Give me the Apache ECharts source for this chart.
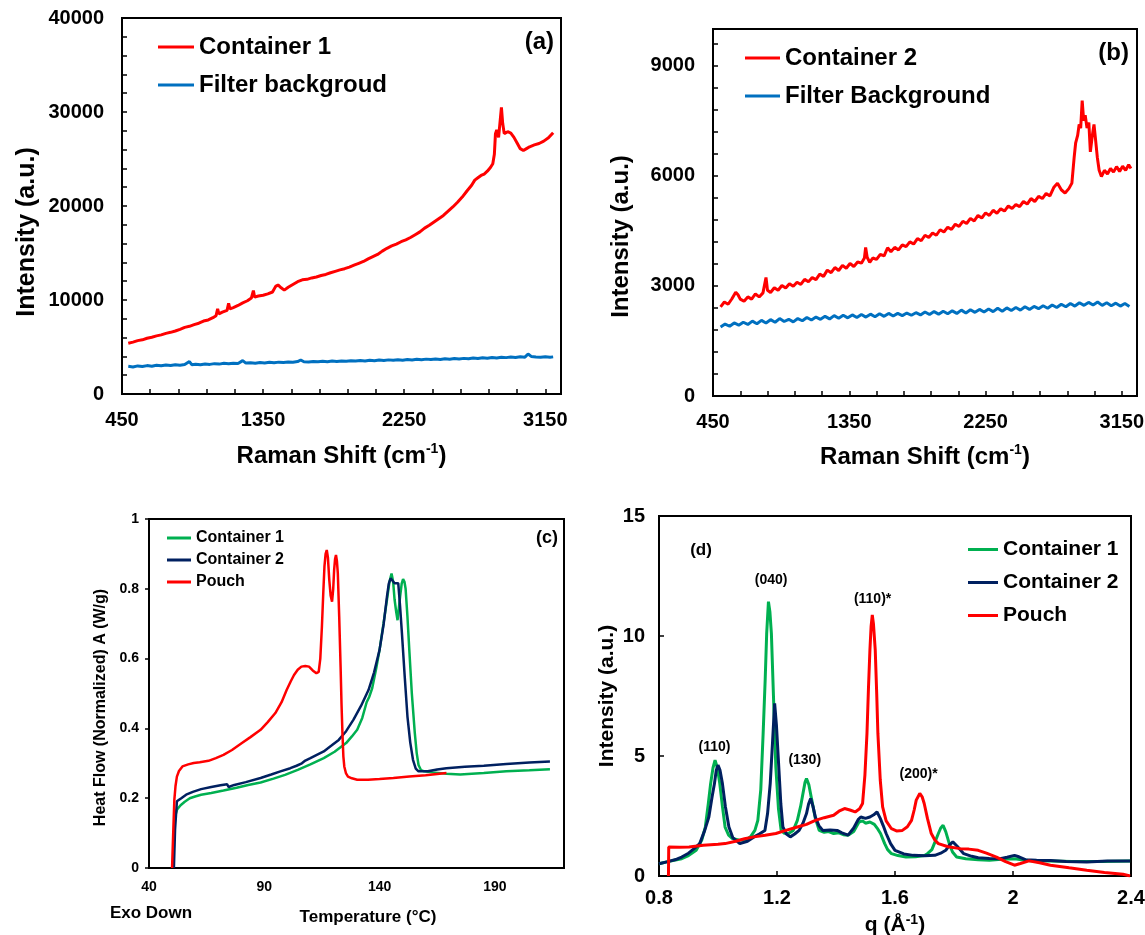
<!DOCTYPE html>
<html>
<head>
<meta charset="utf-8">
<script src="https://cdn.jsdelivr.net/npm/echarts@6/dist/echarts.min.js"></script>
<style>
html,body{margin:0;padding:0;background:#fff;}
.pane{position:absolute;left:0;top:0;width:1145px;height:935px;}
</style>
</head>
<body>
<div id="ca" class="pane"></div>
<div id="cb" class="pane"></div>
<div id="cc" class="pane"></div>
<div id="cd" class="pane"></div>
<script>
// ---------------- DATA ----------------
// Panel (a) Raman, Container 1 vs filter background  [Raman shift cm-1, intensity]
const ramanA_container1 = [[490,5400],[520,5520],[550,5680],[580,5760],[610,5930],[640,6040],[670,6180],[700,6290],[730,6450],[760,6560],[790,6700],[820,6880],[850,7090],[880,7200],[910,7380],[940,7530],[970,7760],[1000,7880],[1030,8120],[1050,8330],[1060,9050],[1068,8520],[1090,8700],[1120,8900],[1130,9650],[1138,9050],[1160,9200],[1190,9420],[1220,9690],[1250,9920],[1275,10200],[1288,11000],[1296,10300],[1320,10420],[1350,10500],[1380,10650],[1410,10850],[1430,11450],[1445,11600],[1465,11300],[1485,11050],[1510,11350],[1540,11650],[1570,11950],[1600,12150],[1630,12200],[1660,12350],[1690,12450],[1720,12600],[1750,12720],[1780,12900],[1810,13050],[1840,13200],[1870,13330],[1900,13500],[1930,13700],[1960,13900],[1990,14100],[2020,14380],[2050,14620],[2080,14850],[2110,15200],[2140,15500],[2170,15750],[2200,15950],[2230,16200],[2260,16400],[2290,16650],[2320,16950],[2350,17250],[2380,17650],[2410,17950],[2440,18300],[2470,18650],[2500,19000],[2530,19450],[2560,19900],[2590,20400],[2620,20950],[2650,21600],[2680,22200],[2700,22750],[2720,23000],[2740,23250],[2760,23400],[2780,23700],[2800,24100],[2815,24500],[2825,25500],[2832,27700],[2840,28100],[2852,27300],[2862,27500],[2870,30500],[2878,28800],[2888,27700],[2910,27900],[2930,27750],[2950,27300],[2970,26700],[2990,26100],[3010,25900],[3030,26100],[3050,26300],[3080,26500],[3110,26650],[3140,26900],[3170,27250],[3200,27800]];
const ramanA_filter = [[490,2950],[520,2880],[550,2990],[580,2920],[610,3020],[640,2960],[670,3050],[700,3000],[730,3080],[760,3030],[790,3110],[820,3060],[850,3130],[880,3450],[895,3120],[920,3170],[950,3120],[980,3200],[1010,3150],[1040,3230],[1070,3180],[1100,3260],[1130,3210],[1160,3280],[1190,3240],[1220,3550],[1240,3290],[1270,3330],[1300,3280],[1330,3340],[1360,3300],[1390,3370],[1420,3320],[1450,3390],[1480,3350],[1510,3400],[1540,3370],[1570,3450],[1590,3620],[1610,3430],[1640,3400],[1670,3460],[1700,3420],[1730,3480],[1760,3440],[1790,3500],[1820,3460],[1850,3520],[1880,3480],[1910,3540],[1940,3500],[1970,3560],[2000,3520],[2030,3590],[2060,3540],[2090,3610],[2120,3560],[2150,3630],[2180,3580],[2210,3650],[2240,3600],[2270,3670],[2300,3620],[2330,3690],[2360,3640],[2390,3710],[2420,3660],[2450,3730],[2480,3680],[2510,3750],[2540,3700],[2570,3770],[2600,3720],[2630,3790],[2660,3750],[2690,3820],[2720,3780],[2750,3850],[2780,3810],[2810,3880],[2840,3840],[2870,3910],[2900,3870],[2930,3930],[2960,3890],[2990,3960],[3020,3920],[3040,4250],[3060,4000],[3090,3940],[3120,3900],[3150,3960],[3180,3910],[3200,3950]];

// Panel (b) Raman, Container 2 vs filter background
const ramanB_container2 = [[500,2430],[525,2560],[550,2500],[575,2650],[600,2830],[615,2760],[630,2640],[655,2580],[680,2700],[705,2640],[730,2780],[755,2700],[780,2810],[800,3230],[810,2880],[830,2820],[855,2950],[880,2880],[905,3010],[930,2940],[955,3060],[980,2990],[1005,3100],[1030,3040],[1055,3180],[1080,3110],[1105,3230],[1130,3170],[1155,3320],[1180,3260],[1205,3430],[1230,3360],[1255,3500],[1280,3420],[1305,3560],[1330,3480],[1355,3610],[1380,3530],[1405,3650],[1430,3620],[1450,3760],[1458,4050],[1468,3780],[1485,3640],[1505,3760],[1530,3720],[1555,3860],[1580,3820],[1603,4040],[1625,3930],[1650,4050],[1675,3980],[1700,4120],[1725,4070],[1750,4200],[1775,4140],[1800,4290],[1825,4230],[1850,4380],[1875,4320],[1900,4440],[1925,4380],[1950,4530],[1975,4470],[2000,4600],[2025,4540],[2050,4680],[2075,4620],[2100,4760],[2125,4700],[2150,4840],[2175,4770],[2200,4920],[2225,4850],[2250,4990],[2275,4920],[2300,5060],[2325,4980],[2350,5100],[2375,5040],[2400,5180],[2425,5110],[2450,5220],[2475,5160],[2500,5300],[2525,5230],[2550,5380],[2575,5300],[2600,5440],[2625,5380],[2650,5520],[2675,5450],[2700,5680],[2725,5800],[2750,5620],[2775,5530],[2800,5650],[2820,5800],[2835,6500],[2845,6900],[2858,7100],[2868,7400],[2878,7300],[2888,8050],[2898,7500],[2908,7650],[2920,7300],[2932,7450],[2942,6650],[2955,7100],[2966,7400],[2976,7000],[2988,6500],[3000,6150],[3015,5980],[3035,6150],[3055,6050],[3075,6200],[3095,6100],[3115,6250],[3135,6120],[3155,6260],[3175,6150],[3195,6300],[3210,6200]];
const ramanB_filter = [[500,1880],[530,1960],[560,1900],[590,1990],[620,1930],[650,2010],[680,1950],[710,2040],[740,1970],[770,2060],[800,1990],[830,2080],[860,2010],[890,2110],[920,2030],[950,2090],[980,2020],[1010,2110],[1040,2050],[1070,2140],[1100,2070],[1130,2150],[1160,2090],[1190,2170],[1220,2100],[1250,2190],[1280,2120],[1310,2200],[1340,2130],[1370,2210],[1400,2140],[1430,2220],[1460,2150],[1490,2230],[1520,2160],[1550,2240],[1580,2170],[1610,2250],[1640,2180],[1670,2250],[1700,2190],[1730,2260],[1760,2200],[1790,2270],[1820,2210],[1850,2290],[1880,2220],[1910,2300],[1940,2230],[1970,2310],[2000,2240],[2030,2320],[2060,2250],[2090,2340],[2120,2260],[2150,2350],[2180,2280],[2210,2360],[2240,2290],[2270,2370],[2300,2300],[2330,2390],[2360,2310],[2390,2400],[2420,2330],[2450,2410],[2480,2340],[2510,2430],[2540,2360],[2570,2440],[2600,2380],[2630,2460],[2660,2390],[2690,2480],[2720,2410],[2750,2500],[2780,2430],[2810,2520],[2840,2450],[2870,2540],[2900,2470],[2930,2550],[2960,2480],[2990,2560],[3020,2470],[3050,2540],[3080,2460],[3110,2530],[3140,2450],[3170,2520],[3200,2440]];

// Panel (c) DSC  [temperature °C, heat flow W/g]
const dsc_container1 = [[50.5,0],[50.9,0.09],[51.3,0.148],[52.2,0.168],[53.7,0.18],[55.5,0.19],[57.7,0.2],[60,0.205],[62.6,0.21],[67,0.215],[72.3,0.222],[78,0.23],[83,0.238],[88.4,0.245],[94,0.256],[99,0.267],[104.5,0.281],[110,0.297],[115.8,0.315],[120.5,0.333],[125.5,0.358],[128,0.377],[130.3,0.396],[132.5,0.43],[134.4,0.475],[135.5,0.49],[136.8,0.515],[138.5,0.57],[140,0.625],[141.7,0.7],[143.2,0.768],[144.3,0.82],[145.2,0.844],[145.9,0.82],[146.5,0.77],[147.2,0.735],[147.8,0.71],[148.3,0.74],[148.9,0.777],[149.6,0.815],[150.2,0.828],[150.8,0.82],[151.3,0.8],[152.1,0.72],[152.9,0.625],[154,0.5],[155.3,0.386],[156.1,0.33],[156.9,0.295],[158,0.28],[159.4,0.277],[163,0.274],[169,0.27],[175,0.268],[180,0.27],[185.2,0.272],[195,0.277],[205,0.28],[213.9,0.283]];
const dsc_container2 = [[50.8,0],[51.3,0.11],[52.1,0.191],[54,0.2],[56.1,0.21],[59,0.218],[62.6,0.226],[67,0.232],[71,0.237],[73.9,0.24],[74.5,0.232],[77,0.238],[82,0.246],[88.4,0.258],[93,0.268],[97,0.277],[101.3,0.286],[104,0.293],[106.3,0.3],[107,0.295],[107.8,0.308],[110,0.315],[113,0.325],[115.8,0.334],[119,0.35],[122.3,0.367],[125.5,0.392],[128.7,0.425],[132,0.465],[135.2,0.51],[137.6,0.56],[140,0.625],[141.8,0.7],[143.2,0.777],[144,0.815],[144.8,0.83],[145.6,0.825],[146.5,0.816],[147.3,0.818],[148.1,0.816],[148.9,0.75],[149.7,0.673],[150.9,0.55],[152.1,0.434],[153.3,0.36],[154.5,0.31],[155.7,0.285],[156.9,0.277],[160.9,0.277],[165,0.282],[169,0.286],[177,0.29],[185.2,0.293],[195,0.298],[205,0.302],[213.9,0.305]];
const dsc_pouch = [[50,0],[50.6,0.12],[51,0.196],[51.5,0.235],[52.1,0.262],[53,0.278],[54.5,0.291],[57,0.297],[59.4,0.301],[62,0.303],[65.8,0.307],[69,0.315],[72.3,0.324],[76,0.338],[80.3,0.358],[84,0.375],[88.4,0.396],[91.5,0.418],[94.8,0.444],[97.5,0.475],[99.7,0.51],[101.5,0.535],[102.9,0.553],[104.5,0.568],[106.1,0.577],[107.8,0.579],[109.4,0.577],[111,0.566],[112.6,0.558],[113.6,0.562],[114.3,0.6],[115,0.692],[115.6,0.79],[116.1,0.864],[116.6,0.9],[117.1,0.911],[117.6,0.89],[118.2,0.825],[118.8,0.78],[119.4,0.763],[119.9,0.8],[120.3,0.854],[120.7,0.885],[121.1,0.897],[121.5,0.88],[121.9,0.844],[122.5,0.72],[123.1,0.577],[123.5,0.47],[123.9,0.386],[124.3,0.32],[124.7,0.291],[125.4,0.272],[126.3,0.262],[128,0.257],[130.3,0.253],[135,0.253],[140,0.255],[146,0.258],[152.9,0.262],[160,0.266],[169,0.272]];

// Panel (d) XRD  [q Å-1, intensity]
const xrd_container1 = [[0.80,0.51],[0.83,0.6],[0.86,0.68],[0.877,0.72],[0.90,0.85],[0.926,1.07],[0.945,1.5],[0.957,2.04],[0.967,3.0],[0.975,3.85],[0.983,4.5],[0.99,4.83],[0.998,4.5],[1.006,3.85],[1.015,2.9],[1.024,2.04],[1.036,1.7],[1.049,1.56],[1.07,1.5],[1.086,1.49],[1.10,1.55],[1.11,1.63],[1.125,1.9],[1.135,2.32],[1.145,3.6],[1.153,5.94],[1.16,8.2],[1.165,10.1],[1.171,11.43],[1.176,11.0],[1.181,10.1],[1.188,7.5],[1.196,4.55],[1.205,2.8],[1.214,1.9],[1.225,1.78],[1.239,1.77],[1.255,1.9],[1.269,2.32],[1.28,2.9],[1.288,3.44],[1.295,3.9],[1.30,4.06],[1.308,3.8],[1.318,3.16],[1.33,2.4],[1.343,1.9],[1.36,1.82],[1.375,1.85],[1.392,1.77],[1.41,1.8],[1.425,1.72],[1.441,1.7],[1.46,1.85],[1.478,2.25],[1.49,2.3],[1.50,2.2],[1.515,2.25],[1.53,2.15],[1.542,1.95],[1.551,1.77],[1.565,1.35],[1.575,1.1],[1.588,0.93],[1.61,0.85],[1.637,0.79],[1.67,0.8],[1.70,0.85],[1.71,0.93],[1.725,1.1],[1.735,1.4],[1.747,1.77],[1.755,2.0],[1.763,2.11],[1.772,1.85],[1.784,1.35],[1.795,1.0],[1.809,0.79],[1.84,0.72],[1.882,0.68],[1.92,0.66],[1.96,0.7],[2.005,0.72],[2.03,0.68],[2.06,0.64],[2.127,0.63],[2.2,0.6],[2.3,0.6],[2.397,0.62]];
const xrd_container2 = [[0.80,0.51],[0.83,0.6],[0.86,0.7],[0.877,0.79],[0.90,0.95],[0.92,1.15],[0.938,1.35],[0.955,1.9],[0.969,2.46],[0.98,3.3],[0.988,3.85],[0.994,4.4],[1.0,4.62],[1.007,4.4],[1.015,3.85],[1.025,2.9],[1.037,2.04],[1.05,1.6],[1.074,1.35],[1.10,1.45],[1.122,1.63],[1.14,1.75],[1.159,1.9],[1.168,2.6],[1.177,3.85],[1.185,5.6],[1.192,7.19],[1.198,6.3],[1.206,4.55],[1.213,3.0],[1.22,2.04],[1.232,1.75],[1.245,1.63],[1.26,1.75],[1.275,1.9],[1.288,2.2],[1.30,2.6],[1.307,3.0],[1.314,3.23],[1.322,2.9],[1.33,2.46],[1.342,2.1],[1.355,1.9],[1.38,1.92],[1.404,1.9],[1.42,1.8],[1.441,1.7],[1.46,2.0],[1.475,2.35],[1.484,2.46],[1.50,2.4],[1.515,2.46],[1.528,2.55],[1.539,2.67],[1.55,2.4],[1.56,2.1],[1.57,1.77],[1.585,1.35],[1.60,1.07],[1.63,0.92],[1.662,0.86],[1.70,0.84],[1.735,0.86],[1.755,0.95],[1.772,1.07],[1.785,1.3],[1.796,1.42],[1.81,1.25],[1.833,0.93],[1.86,0.82],[1.882,0.76],[1.92,0.73],[1.956,0.72],[1.98,0.78],[2.005,0.86],[2.02,0.8],[2.042,0.68],[2.08,0.66],[2.127,0.65],[2.18,0.6],[2.25,0.58],[2.32,0.62],[2.397,0.63]];
const xrd_pouch = [[0.832,0],[0.833,1.21],[0.87,1.2],[0.902,1.21],[0.95,1.28],[1.0,1.32],[1.024,1.35],[1.06,1.45],[1.09,1.55],[1.122,1.63],[1.16,1.7],[1.196,1.77],[1.23,1.9],[1.269,2.04],[1.30,2.15],[1.33,2.32],[1.36,2.43],[1.392,2.53],[1.41,2.7],[1.429,2.81],[1.447,2.75],[1.465,2.67],[1.48,2.8],[1.49,3.02],[1.498,4.2],[1.505,5.94],[1.51,7.8],[1.515,9.42],[1.519,10.4],[1.523,10.88],[1.527,10.5],[1.533,9.42],[1.538,7.6],[1.542,5.94],[1.55,4.0],[1.558,2.88],[1.57,2.3],[1.588,1.97],[1.605,1.88],[1.625,1.9],[1.642,2.05],[1.656,2.32],[1.665,2.75],[1.672,3.16],[1.684,3.44],[1.692,3.3],[1.699,3.02],[1.71,2.4],[1.723,1.77],[1.735,1.5],[1.747,1.35],[1.78,1.22],[1.821,1.14],[1.85,1.12],[1.882,1.07],[1.91,0.95],[1.944,0.79],[1.975,0.6],[2.005,0.45],[2.025,0.52],[2.054,0.63],[2.09,0.55],[2.127,0.45],[2.19,0.34],[2.25,0.24],[2.31,0.15],[2.373,0.07],[2.397,0.0]];
// XRD peak annotations: text and anchor in data space [q, intensity]
const xrdPeakText = ['(110)','(040)','(130)','(110)*','(200)*'];
const xrdPeakAnchor = [[0.988,5.38],[1.18,12.34],[1.294,4.83],[1.524,11.54],[1.68,4.24]];

// Tick values / labels
const ramanXLabels = [450,1350,2250,3150];
const ramanXTicks = [450,630,810,990,1170,1350,1530,1710,1890,2070,2250,2430,2610,2790,2970,3150];
const ramanAYLabels = [0,10000,20000,30000,40000];
const ramanAYTicks = [0,2000,4000,6000,8000,10000,12000,14000,16000,18000,20000,22000,24000,26000,28000,30000,32000,34000,36000,38000,40000];
const ramanBYLabels = [0,3000,6000,9000];
const ramanBYTicks = [0,600,1200,1800,2400,3000,3600,4200,4800,5400,6000,6600,7200,7800,8400,9000,9600];
const dscXLabels = [40,90,140,190];
const dscYLabels = [0,0.2,0.4,0.6,0.8,1];
const xrdXLabels = [0.8,1.2,1.6,2,2.4];
const xrdYLabels = [0,5,10,15];

// ---------------- STYLE ----------------
const FF = 'Liberation Sans, Arial, Helvetica, sans-serif';
const RED = '#FF0000', BLUE = '#0070C0', GREEN = '#00B050', NAVY = '#002060';
const plain = v => String(Math.round(v*1000)/1000);

function txt(size, extra){ return Object.assign({fontFamily:FF, fontWeight:'bold', fontSize:size, color:'#000'}, extra||{}); }
function gtext(x, y, text, size, align){
  return {type:'text', x:x, y:y, silent:true,
    style:{text:text, fill:'#000', fontFamily:FF, fontWeight:'bold', fontSize:size, align:align||'center', verticalAlign:'middle'}};
}
function lineSeries(name, data, color, width){
  return {name:name, type:'line', data:data, color:color, symbol:'none', showSymbol:false,
    lineStyle:{color:color, width:width}, itemStyle:{color:color}, animation:false, silent:true, z:2};
}
function ax(o){
  return Object.assign({
    type:'value', splitLine:{show:false},
    axisLine:{show:true, onZero:false, lineStyle:{color:'#000', width:2}}
  }, o);
}
function lab(values, margin, size){ return Object.assign({customValues:values, margin:margin, formatter:plain}, txt(size)); }
const supRich = {sup:{fontFamily:FF, fontWeight:'bold', fontSize:14, color:'#000', verticalAlign:'top', lineHeight:14}};

// ---------------- (a) ----------------
const chA = echarts.init(document.getElementById('ca'));
chA.setOption({
  animation:false,
  grid:{left:122, top:18, width:439, height:376, show:true, borderColor:'#000', borderWidth:2, backgroundColor:'transparent', outerBoundsMode:'none'},
  xAxis: ax({min:450, max:3250,
    axisTick:{show:true, inside:true, length:5, customValues:ramanXTicks, lineStyle:{color:'#000', width:1.5}},
    axisLabel:lab(ramanXLabels,16,20),
    name:'Raman Shift (cm{sup|-1})', nameLocation:'middle', nameGap:48,
    nameTextStyle:txt(24,{lineHeight:28, rich:supRich})}),
  yAxis: ax({min:0, max:40000,
    axisTick:{show:true, inside:true, length:5, customValues:ramanAYTicks, lineStyle:{color:'#000', width:1.5}},
    axisLabel:lab(ramanAYLabels,18,20),
    name:'Intensity (a.u.)', nameLocation:'middle', nameGap:82,
    nameTextStyle:txt(25,{padding:[0,52,0,0]})}),
  legend:{orient:'vertical', left:153, top:30, icon:'rect', itemWidth:36, itemHeight:3, itemGap:14,
    textStyle:txt(24,{lineHeight:24}), data:['Container 1','Filter backgroud'], selectedMode:false},
  graphic:[gtext(554,42,'(a)',24,'right')],
  series:[lineSeries('Filter backgroud', ramanA_filter, BLUE, 3), lineSeries('Container 1', ramanA_container1, RED, 3)]
});

// ---------------- (b) ----------------
const chB = echarts.init(document.getElementById('cb'));
chB.setOption({
  animation:false,
  grid:{left:713, top:29, width:424, height:367, show:true, borderColor:'#000', borderWidth:2, backgroundColor:'transparent', outerBoundsMode:'none'},
  xAxis: ax({min:450, max:3250,
    axisTick:{show:true, inside:true, length:5, customValues:ramanXTicks, lineStyle:{color:'#000', width:1.5}},
    axisLabel:lab(ramanXLabels,16,20),
    name:'Raman Shift (cm{sup|-1})', nameLocation:'middle', nameGap:47,
    nameTextStyle:txt(24,{lineHeight:28, rich:supRich})}),
  yAxis: ax({min:0, max:10000,
    axisTick:{show:true, inside:true, length:5, customValues:ramanBYTicks, lineStyle:{color:'#000', width:1.5}},
    axisLabel:lab(ramanBYLabels,18,20),
    name:'Intensity (a.u.)', nameLocation:'middle', nameGap:80,
    nameTextStyle:txt(24,{padding:[0,48,0,0]})}),
  legend:{orient:'vertical', left:740, top:41, icon:'rect', itemWidth:35, itemHeight:3, itemGap:14,
    textStyle:txt(24,{lineHeight:24}), data:['Container 2','Filter Background'], selectedMode:false},
  graphic:[gtext(1129,53,'(b)',24,'right')],
  series:[lineSeries('Filter Background', ramanB_filter, BLUE, 3), lineSeries('Container 2', ramanB_container2, RED, 3)]
});

// ---------------- (c) ----------------
const chC = echarts.init(document.getElementById('cc'));
chC.setOption({
  animation:false,
  grid:{left:149, top:519, width:415, height:349, show:true, borderColor:'#000', borderWidth:2, backgroundColor:'transparent', outerBoundsMode:'none'},
  xAxis: ax({min:40, max:220,
    axisTick:{show:false},
    axisLabel:lab(dscXLabels,12,14),
    name:'Temperature (°C)', nameLocation:'middle', nameGap:39,
    nameTextStyle:txt(17,{lineHeight:20, padding:[0,0,0,23]})}),
  yAxis: ax({min:0, max:1,
    axisTick:{show:true, inside:false, length:4, customValues:dscYLabels, lineStyle:{color:'#000', width:1.5}},
    axisLabel:lab(dscYLabels,10,14),
    name:'Heat Flow (Normalized) A (W/g)', nameLocation:'middle', nameGap:38,
    nameTextStyle:txt(16,{lineHeight:20, padding:[0,28,0,0]})}),
  legend:{orient:'vertical', left:162, top:525, icon:'rect', itemWidth:24, itemHeight:3, itemGap:6,
    textStyle:txt(16,{lineHeight:16}), data:['Container 1','Container 2','Pouch'], selectedMode:false},
  graphic:[gtext(558,538,'(c)',18,'right'), gtext(151,913,'Exo Down',17,'center')],
  series:[lineSeries('Container 1', dsc_container1, GREEN, 2.5), lineSeries('Container 2', dsc_container2, NAVY, 2.5), lineSeries('Pouch', dsc_pouch, RED, 2.5)]
});

// ---------------- (d) ----------------
const chD = echarts.init(document.getElementById('cd'));
chD.setOption({
  animation:false,
  grid:{left:659, top:516, width:472, height:360, show:true, borderColor:'#000', borderWidth:2, backgroundColor:'transparent', outerBoundsMode:'none'},
  xAxis: ax({min:0.8, max:2.4,
    axisTick:{show:true, inside:true, length:5, customValues:xrdXLabels, lineStyle:{color:'#000', width:1.5}},
    axisLabel:lab(xrdXLabels,12,20),
    name:'q (Å{sup|-1})', nameLocation:'middle', nameGap:37,
    nameTextStyle:txt(21,{lineHeight:24, rich:supRich})}),
  yAxis: ax({min:0, max:15,
    axisTick:{show:true, inside:true, length:5, customValues:xrdYLabels, lineStyle:{color:'#000', width:1.5}},
    axisLabel:lab(xrdYLabels,14,20),
    name:'Intensity (a.u.)', nameLocation:'middle', nameGap:39,
    nameTextStyle:txt(21,{lineHeight:24})}),
  legend:{orient:'vertical', left:963, top:534, icon:'rect', itemWidth:30, itemHeight:3, itemGap:12,
    textStyle:txt(21,{lineHeight:21}), data:['Container 1','Container 2','Pouch'], selectedMode:false},
  graphic:[gtext(701,550,'(d)',17,'center')],
  series:[
    lineSeries('Container 1', xrd_container1, GREEN, 3),
    lineSeries('Container 2', xrd_container2, NAVY, 3),
    lineSeries('Pouch', xrd_pouch, RED, 3),
    {name:'peak labels', type:'scatter', symbolSize:0, silent:true, animation:false, z:5,
     itemStyle:{opacity:1, color:'#000'},
     data: xrdPeakText.map((t,i)=>({name:t, value:xrdPeakAnchor[i]})),
     label:{show:true, position:'inside', formatter:'{b}', opacity:1, textBorderWidth:0, ...txt(14)}}
  ]
});
</script>
</body>
</html>
